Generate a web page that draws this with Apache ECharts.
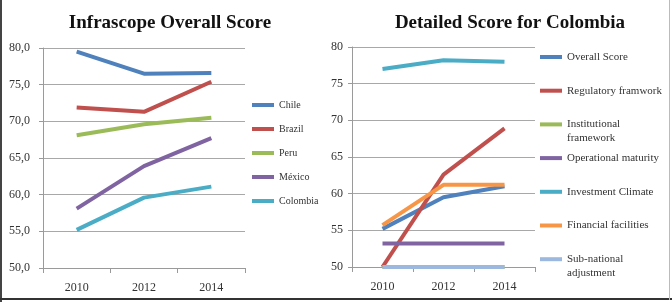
<!DOCTYPE html>
<html>
<head>
<meta charset="utf-8">
<script src="https://cdn.jsdelivr.net/npm/echarts@6/dist/echarts.min.js"></script>
<style>
  html, body { margin: 0; padding: 0; background: #fff; }
  #chart { width: 672px; height: 302px; }
</style>
</head>
<body>
<div id="chart"></div>
<script>
// data
var years = ['2010', '2012', '2014'];

// left: Infrascope Overall Score
var countries = ['Chile', 'Brazil', 'Peru', 'México', 'Colombia'];
var chile    = [79.5, 76.5, 76.6];
var brazil   = [71.9, 71.3, 75.4];
var peru     = [68.1, 69.6, 70.5];
var mexico   = [58.1, 63.9, 67.7];
var colombia = [55.2, 59.6, 61.1];
var countryColors = ['#4F81BD', '#C0504D', '#9BBB59', '#8064A2', '#4BACC6'];

// right: Detailed Score for Colombia
var components = ['Overall Score', 'Regulatory framwork', 'Institutional framework',
  'Operational maturity', 'Investment Climate', 'Financial facilities', 'Sub-national adjustment'];
var overall       = [55.2, 59.5, 61.0];
var regulatory    = [50.0, 62.6, 68.9];
var institutional = [50.0, 50.0, 50.0];
var operational   = [53.2, 53.2, 53.2];
var investment    = [77.0, 78.2, 78.0];
var financial     = [55.7, 61.2, 61.2];
var subnational   = [50.0, 50.0, 50.0];
var componentColors = ['#4F81BD', '#C0504D', '#9BBB59', '#8064A2', '#4BACC6', '#F79646', '#9DB8DE'];

var countryData = [chile, brazil, peru, mexico, colombia];
var componentData = [overall, regulatory, institutional, operational, investment, financial, subnational];

var font = 'Liberation Serif';
var chart = echarts.init(document.getElementById('chart'));

function xAx(idx) {
  return {
    type: 'category', gridIndex: idx, data: years, boundaryGap: true,
    axisLine: { lineStyle: { color: '#9a9a9a', width: 1 } },
    axisTick: { show: true, length: 5, alignWithLabel: false, lineStyle: { color: '#9a9a9a' } },
    axisLabel: { fontFamily: font, fontSize: 12, color: '#333', margin: 14 }
  };
}
function yAx(idx, fmt, margin) {
  return {
    type: 'value', gridIndex: idx, min: 50, max: 80, interval: 5,
    axisLine: { show: true, lineStyle: { color: '#9a9a9a' } },
    axisTick: { show: true, length: 4, lineStyle: { color: '#9a9a9a' } },
    splitLine: { lineStyle: { color: '#a8a8a8', width: 1 } },
    axisLabel: { fontFamily: font, fontSize: 12, color: '#333', margin: margin, formatter: fmt }
  };
}

var series = [];
countries.forEach(function (n, i) {
  series.push({ name: n, type: 'line', xAxisIndex: 0, yAxisIndex: 0, data: countryData[i],
    symbol: 'none', color: countryColors[i], lineStyle: { width: 4 } });
});
components.forEach(function (n, i) {
  series.push({ name: n, type: 'line', xAxisIndex: 1, yAxisIndex: 1, data: componentData[i],
    symbol: 'none', color: componentColors[i], lineStyle: { width: 4 } });
});

var legends = [{
  orient: 'vertical', left: 252, top: 98, padding: 0, itemGap: 10, itemWidth: 22, itemHeight: 4,
  icon: 'rect', data: countries, itemStyle: { borderWidth: 0 },
  textStyle: { fontFamily: font, fontSize: 10, color: '#333', lineHeight: 14 }
}];
var extraText = [];
components.forEach(function (n, i) {
  var c = 57 + 33.7 * i;
  var parts = n.split(' ');
  var multi = n === 'Institutional framework' || n === 'Sub-national adjustment';
  legends.push({
    orient: 'vertical', left: 540, top: c - 7, padding: 0, itemWidth: 22, itemHeight: 4,
    icon: 'rect', data: [n], itemGap: 0, itemStyle: { borderWidth: 0 },
    formatter: multi ? function () { return parts[0]; } : '{name}',
    textStyle: { fontFamily: font, fontSize: 11, color: '#333', lineHeight: 14 }
  });
  if (multi) {
    extraText.push({ type: 'text', left: 567, top: c + 8,
      style: { text: parts[1], font: '11px "Liberation Serif"', fill: '#333' } });
  }
});

chart.setOption({
  animation: false,
  backgroundColor: '#fff',
  title: [
    { text: 'Infrascope Overall Score', left: 165, top: 9, textAlign: 'center',
      textStyle: { fontFamily: font, fontWeight: 'bold', fontSize: 19, color: '#111' } },
    { text: 'Detailed Score for Colombia', left: 505, top: 9, textAlign: 'center',
      textStyle: { fontFamily: font, fontWeight: 'bold', fontSize: 19, color: '#111' } }
  ],
  grid: [
    { left: 43, top: 48, width: 202, height: 220 },
    { left: 352, top: 47, width: 183, height: 220 }
  ],
  xAxis: [xAx(0), xAx(1)],
  yAxis: [
    yAx(0, function (v) { return v.toFixed(1).replace('.', ','); }, 13),
    yAx(1, function (v) { return String(v); }, 9)
  ],
  legend: legends,
  series: series,
  graphic: extraText.concat([
    { type: 'rect', shape: { x: 0, y: 0, width: 2, height: 302 }, style: { fill: '#444' } },
    { type: 'rect', shape: { x: 0, y: 298, width: 672, height: 2 }, style: { fill: '#333' } },
    { type: 'rect', shape: { x: 669, y: 0, width: 1, height: 300 }, style: { fill: '#bbb' } }
  ])
});
</script>
</body>
</html>
